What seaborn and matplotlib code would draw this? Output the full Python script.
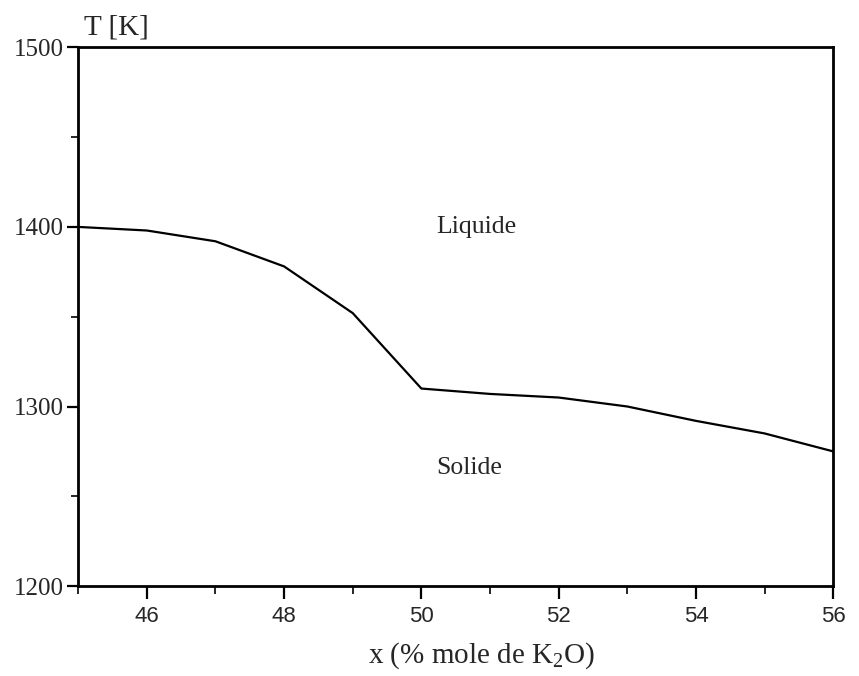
import pandas as pd
import matplotlib
matplotlib.use("Agg")
import matplotlib.pyplot as plt
import seaborn as sns
from matplotlib.ticker import MultipleLocator

# liquidus curve
x_k2o = [45, 46, 47, 48, 49, 50, 51, 52, 53, 54, 55, 56]
temp_k = [1400, 1398, 1392, 1378, 1352, 1310, 1307, 1305, 1300, 1292, 1285, 1275]

region_labels = ["Liquide", "Solide"]
region_x = [50.8, 50.7]
region_y = [1400, 1266]

data = pd.DataFrame({"x": x_k2o, "T": temp_k})

sns.set_style("ticks")
plt.rcParams["font.family"] = ["Liberation Serif", "DejaVu Serif"]
plt.rcParams["mathtext.fontset"] = "custom"
plt.rcParams["mathtext.rm"] = "Liberation Serif"
plt.rcParams["mathtext.default"] = "rm"

fig = plt.figure(figsize=(8.59, 6.76), dpi=100)
ax = fig.add_axes([0.091, 0.133, 0.879, 0.797])

sns.lineplot(data=data, x="x", y="T", color="black", linewidth=1.6, ax=ax)

ax.set_xlim(45, 56)
ax.set_ylim(1200, 1500)
ax.xaxis.set_major_locator(MultipleLocator(2))
ax.xaxis.set_minor_locator(MultipleLocator(1))
ax.yaxis.set_major_locator(MultipleLocator(100))
ax.yaxis.set_minor_locator(MultipleLocator(50))

for s in ax.spines.values():
    s.set_linewidth(2)
    s.set_color("black")

ax.tick_params(axis="both", which="major", direction="out", width=1.6, color="black")
ax.tick_params(axis="x", which="major", length=9, pad=5)
ax.tick_params(axis="x", which="minor", length=6, width=1.4)
ax.tick_params(axis="y", which="major", length=8, pad=2)
ax.tick_params(axis="y", which="minor", length=5, width=1.4)

for lab in ax.get_xticklabels():
    lab.set_fontfamily("Liberation Sans")
    lab.set_fontsize(16)
for lab in ax.get_yticklabels():
    lab.set_fontsize(18)

ax.set_xlabel("x (% mole de K$_2$O)", fontsize=21)
ax.xaxis.set_label_coords(0.534, -0.100)
ax.set_ylabel("")
ax.text(0.008, 1.012, "T [K]", transform=ax.transAxes, fontsize=21,
        ha="left", va="bottom")

for lab, xx, yy in zip(region_labels, region_x, region_y):
    ax.text(xx, yy, lab, fontsize=18.5, ha="center", va="center")

fig.savefig("out.png", dpi=100)
